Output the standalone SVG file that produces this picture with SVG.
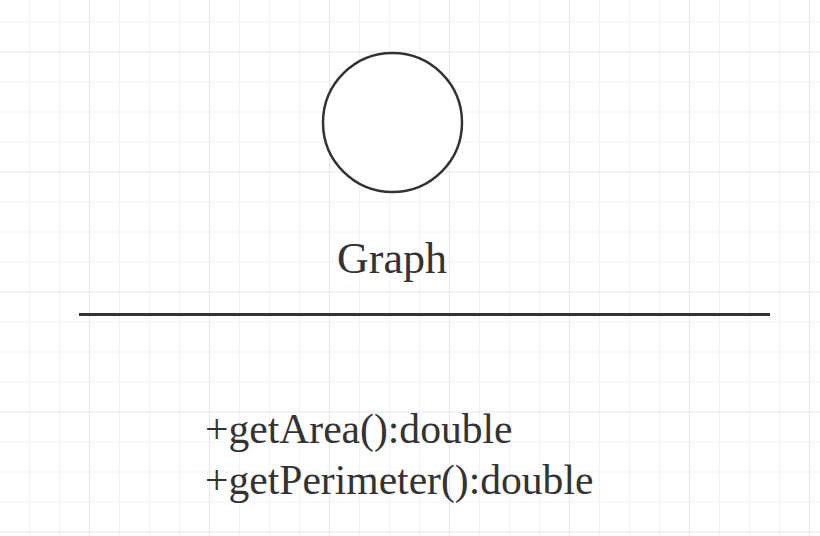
<svg xmlns="http://www.w3.org/2000/svg" width="820" height="536" viewBox="0 0 820 536">
  <style>
    .minor { stroke: #f2f2f2; stroke-width: 1; }
    .major { stroke: #e5e5e5; stroke-width: 1; }
    .shape { fill: #ffffff; stroke: #333333; stroke-width: 2.5; }
    .sep { stroke: #333333; stroke-width: 3; }
    .lbl { font-family: "Liberation Serif", "Times New Roman", serif; fill: #333333; }
  </style>
  <defs>
    <pattern id="grid" patternUnits="userSpaceOnUse" x="89" y="51.5" width="120" height="120">
      <path class="minor" d="M30.5 0V120M60.5 0V120M90.5 0V120M0 30.5H120M0 60.5H120M0 90.5H120"/>
      <path class="major" d="M0.5 0V120M0 0.5H120"/>
    </pattern>
  </defs>
  <rect width="820" height="536" fill="#ffffff"/>
  <rect width="820" height="536" fill="url(#grid)"/>
  <g id="graph-node">
    <circle class="shape" cx="392.5" cy="122.5" r="69.5"/>
    <text class="lbl" x="392" y="272.5" font-size="44" text-anchor="middle">Graph</text>
  </g>
  <g id="connectors">
    <line class="sep" x1="79" y1="314.5" x2="770" y2="314.5"/>
  </g>
  <g id="methods">
    <text class="lbl" x="205" y="442.5" font-size="41.6">+getArea():double</text>
    <text class="lbl" x="205" y="493.5" font-size="41.6">+getPerimeter():double</text>
  </g>
</svg>
